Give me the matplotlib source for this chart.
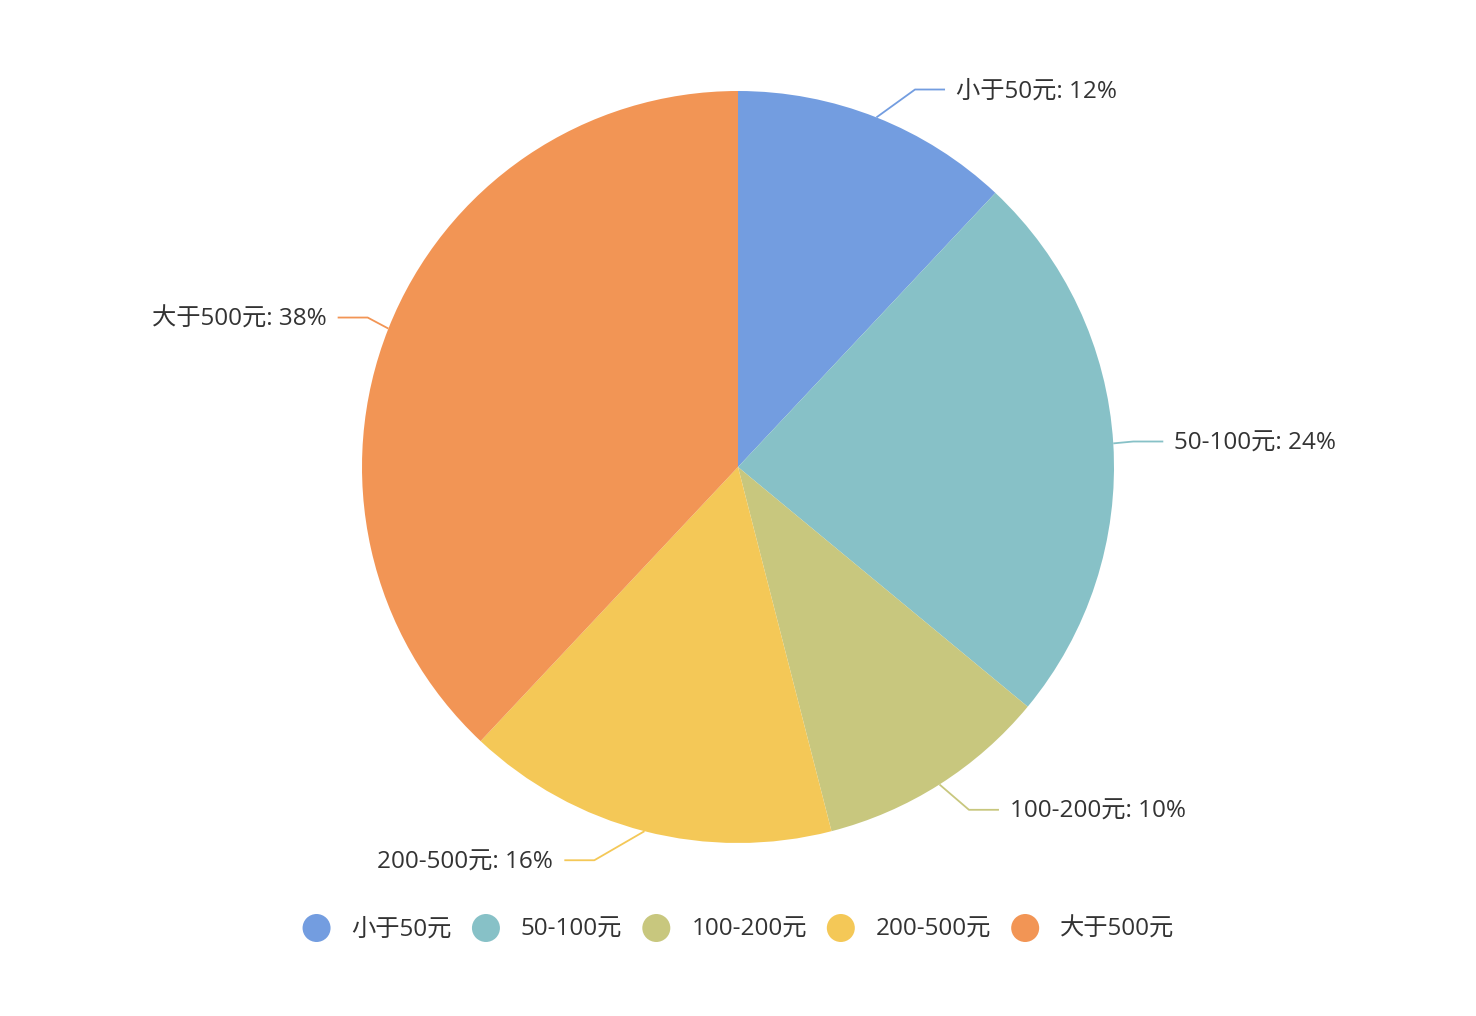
import matplotlib
matplotlib.use("Agg")
import matplotlib.pyplot as plt
import numpy as np
from matplotlib.patches import Circle

# latin glyphs from Open Sans (close to Segoe UI), CJK from Noto
plt.rcParams['font.family'] = ['Open Sans', 'Noto Sans CJK SC', 'DejaVu Sans']

# data
names = ['小于50元', '50-100元', '100-200元', '200-500元', '大于500元']
values = [12, 24, 10, 16, 38]
colors = ['#739de0', '#87c1c7', '#c8c77e', '#f4c857', '#f29555']

W, H = 1476, 1016
fig = plt.figure(figsize=(W / 100, H / 100), dpi=100)
ax = fig.add_axes([0, 0, 1, 1])

cx, cy, r = 738, H - 467, 376
ax.pie(values, colors=colors, startangle=90, counterclock=False,
       center=(cx, cy), radius=r, wedgeprops=dict(linewidth=0))
ax.set_xlim(0, W)
ax.set_ylim(0, H)
ax.set_aspect('equal')
ax.axis('off')

fs = 17.5
txt_color = '#333333'
tdy = -2  # small nudge so text sits centred on the lines

# labels with leader lines (echarts-like layout on an ellipse)
total = float(sum(values))
len1, len2 = 30, 30
rA, rB = r + 20, r + 46
cum = 0
for n, v, c in zip(names, values, colors):
    mid = 90 - (cum + v / 2.0) / total * 360
    cum += v
    a = np.radians(mid)
    x0, y0 = cx + r * np.cos(a), cy + r * np.sin(a)
    dy = (r + len1) * np.sin(a)
    side = 1 if np.cos(a) >= 0 else -1
    dx = rA * np.sqrt(max(0.0, 1 - dy * dy / (rB * rB)))
    x1, y1 = cx + side * dx, cy + dy
    x2 = x1 + side * len2
    ax.plot([x0, x1, x2], [y0, y1, y1], color=c, lw=1.3, solid_capstyle='butt')
    ax.text(x2 + side * 11, y1 + tdy, f'{n}: {v}%', ha='left' if side > 0 else 'right',
            va='center', fontsize=fs, color=txt_color)

# legend
renderer = fig.canvas.get_renderer()
ly = H - 928
texts = []
widths = []
for n in names:
    t = ax.text(0, ly + tdy, n, ha='left', va='center', fontsize=fs, color=txt_color)
    texts.append(t)
    widths.append(t.get_window_extent(renderer).width)
icon_half, gap, item_gap = 25, 10, 9
total_w = sum(2 * icon_half + gap + w for w in widths) + item_gap * (len(names) - 1)
x = 733 - total_w / 2.0
for t, w, c in zip(texts, widths, colors):
    ax.add_patch(Circle((x + icon_half, ly), 14, color=c, lw=0))
    t.set_x(x + 2 * icon_half + gap)
    x += 2 * icon_half + gap + w + item_gap

fig.savefig('out.png', dpi=100, facecolor='white')
